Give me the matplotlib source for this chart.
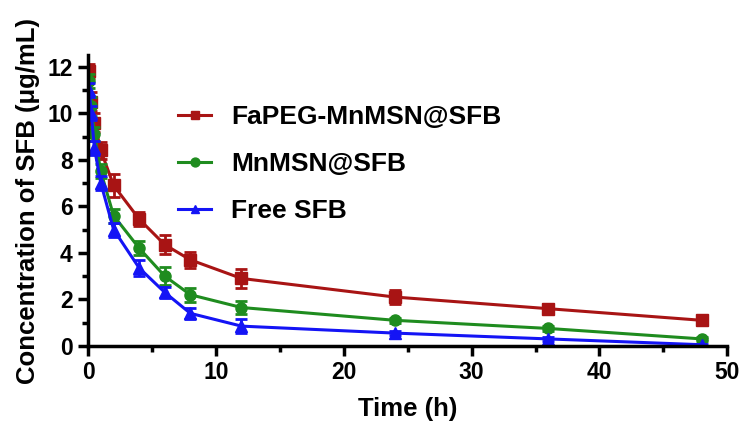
import matplotlib
matplotlib.use("Agg")
import matplotlib.pyplot as plt
from matplotlib.ticker import MultipleLocator

plt.rcParams['font.family'] = ['Liberation Sans', 'DejaVu Sans']
plt.rcParams['font.weight'] = 'bold'

time_h = [0.083, 0.25, 0.5, 1, 2, 4, 6, 8, 12, 24, 36, 48]

fapeg = [11.8, 10.5, 9.6, 8.4, 6.9, 5.45, 4.35, 3.7, 2.9, 2.1, 1.6, 1.1]
fapeg_err = [0.3, 0.4, 0.4, 0.35, 0.5, 0.3, 0.4, 0.35, 0.4, 0.3, 0.2, 0.2]

mnmsn = [11.4, 10.3, 9.1, 7.5, 5.6, 4.2, 3.0, 2.2, 1.65, 1.1, 0.75, 0.3]
mnmsn_err = [0.3, 0.4, 0.3, 0.3, 0.3, 0.3, 0.4, 0.3, 0.3, 0.1, 0.1, 0.1]

free = [11.0, 10.0, 8.5, 7.0, 5.0, 3.35, 2.3, 1.4, 0.85, 0.55, 0.3, 0.05]
free_err = [0.3, 0.3, 0.3, 0.3, 0.3, 0.35, 0.25, 0.25, 0.3, 0.1, 0.1, 0.05]

labels = ['FaPEG-MnMSN@SFB', 'MnMSN@SFB', 'Free SFB']
colors = ['#A81414', '#1F8C1F', '#1414F5']
markers = ['s', 'o', '^']

fig = plt.figure(figsize=(7.46, 4.34), dpi=100)
ax = fig.add_axes([0.118, 0.203, 0.857, 0.67])

for y, e, lab, c, m in zip([fapeg, mnmsn, free], [fapeg_err, mnmsn_err, free_err], labels, colors, markers):
    ax.errorbar(time_h, y, yerr=e, color=c, fmt='none', elinewidth=2, capsize=4.5, capthick=2)
    ax.plot(time_h, y, color=c, marker=m, markersize=8, linewidth=2.2, label=lab)

ax.set_xlim(0, 50)
ax.set_ylim(0, 12.5)
ax.xaxis.set_major_locator(MultipleLocator(10))
ax.xaxis.set_minor_locator(MultipleLocator(5))
ax.yaxis.set_minor_locator(MultipleLocator(1))
ax.set_yticks([0, 2, 4, 6, 8, 10, 12])

for s in ['top', 'right']:
    ax.spines[s].set_visible(False)
for s in ['left', 'bottom']:
    ax.spines[s].set_linewidth(2.5)
ax.tick_params(which='major', width=2.5, length=7, labelsize=16.5, direction='out', pad=4)
ax.tick_params(which='minor', width=2.5, length=4, direction='out')
for lbl in ax.get_xticklabels() + ax.get_yticklabels():
    lbl.set_fontweight('bold')

ax.set_xlabel('Time (h)', fontsize=18.5, fontweight='bold', labelpad=9)
ax.set_ylabel('Concentration of SFB (μg/mL)', fontsize=18.5, fontweight='bold', labelpad=5)

leg = ax.legend(loc='upper left', bbox_to_anchor=(0.125, 0.865), frameon=False,
                handlelength=1.25, handletextpad=0.75, labelspacing=0.87,
                markerscale=0.8, borderaxespad=0,
                prop={'weight': 'bold', 'size': 19})
plt.savefig('out.png', dpi=100)
